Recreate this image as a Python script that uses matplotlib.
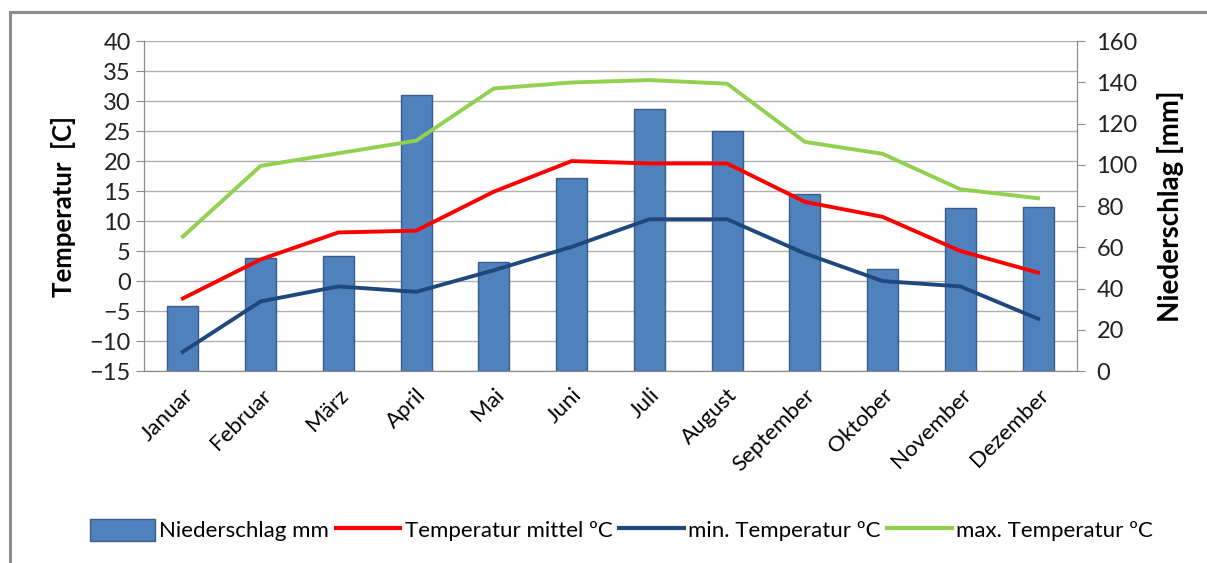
import matplotlib.pyplot as plt
from matplotlib.lines import Line2D
from matplotlib.patches import Patch

plt.rcParams['font.family'] = ['Lato', 'DejaVu Sans']

monate = ["Januar", "Februar", "März", "April", "Mai", "Juni", "Juli",
          "August", "September", "Oktober", "November", "Dezember"]
niederschlag = [31.5, 55, 56, 134, 53, 93.5, 127, 116.5, 86, 49.5, 79, 79.5]
temp_mittel = [-2.9, 3.6, 8.1, 8.4, 14.9, 20, 19.6, 19.6, 13.2, 10.7, 5, 1.4]
temp_min = [-11.8, -3.4, -0.9, -1.8, 1.8, 5.7, 10.3, 10.3, 4.6, 0, -0.9, -6.3]
temp_max = [7.4, 19.2, 21.3, 23.4, 32.1, 33.1, 33.5, 32.9, 23.2, 21.2, 15.3, 13.8]

grau = "#8c8c8c"
x = list(range(len(monate)))

fig = plt.figure(figsize=(12.07, 5.63), dpi=100)
ax = fig.add_axes([0.1193, 0.341, 0.7730, 0.586])
ax2 = ax.twinx()

# Niederschlag as bars on the right axis, drawn behind the temperature lines
ax2.bar(x, niederschlag, width=0.4, color="#4F81BD", edgecolor="#385D8A", linewidth=1, zorder=2)
ax2.set_ylim(0, 160)
ax2.set_yticks(range(0, 161, 20))
ax.set_zorder(ax2.get_zorder() + 1)
ax.patch.set_visible(False)

ax.plot(x, temp_mittel, color="#FF0000", lw=2.8)
ax.plot(x, temp_min, color="#1F497D", lw=2.8)
ax.plot(x, temp_max, color="#92D050", lw=2.8)

ax.set_ylim(-15, 40)
ax.set_yticks(range(-15, 41, 5))
ax.set_xlim(-0.5, 11.5)
ax.set_xticks(x)
ax.set_xticklabels(monate, rotation=45, ha="right", rotation_mode="anchor", fontsize=16)
ax.tick_params(axis="x", length=0, pad=10)

for a in (ax, ax2):
    for s in a.spines.values():
        s.set_color(grau)
    a.spines["top"].set_visible(False)
    a.tick_params(axis="y", labelsize=17, color=grau, length=6, labelcolor="#222222")
ax2.tick_params(axis="y", pad=8)

# horizontal gridlines follow the temperature ticks
for t in range(-15, 41, 5):
    ax2.axhline((t + 15) / 55 * 160, color="#b0b0b0", lw=1, zorder=0)

ax.set_ylabel("Temperatur  [C]", fontsize=18.5, fontweight="bold", labelpad=10)
ax2.set_ylabel("Niederschlag [mm]", fontsize=20, fontweight="bold", labelpad=14)

handles = [
    Patch(facecolor="#4F81BD", edgecolor="#385D8A", label="Niederschlag mm"),
    Line2D([], [], color="#FF0000", lw=3, label="Temperatur mittel ºC"),
    Line2D([], [], color="#1F497D", lw=3, label="min. Temperatur ºC"),
    Line2D([], [], color="#92D050", lw=3, label="max. Temperatur ºC"),
]
fig.legend(handles=handles, loc="center", bbox_to_anchor=(0.515, 0.058), ncol=4,
           frameon=False, fontsize=16, handlelength=2.9, handleheight=1.1,
           handletextpad=0.2, columnspacing=0.3)

# chart frame
fig.add_artist(Line2D([10 / 1207, 1], [1 - 12 / 563] * 2, color=grau, lw=2.2))
fig.add_artist(Line2D([10 / 1207] * 2, [0, 1 - 12 / 563], color=grau, lw=2.2))

fig.savefig("out.png", dpi=100)
